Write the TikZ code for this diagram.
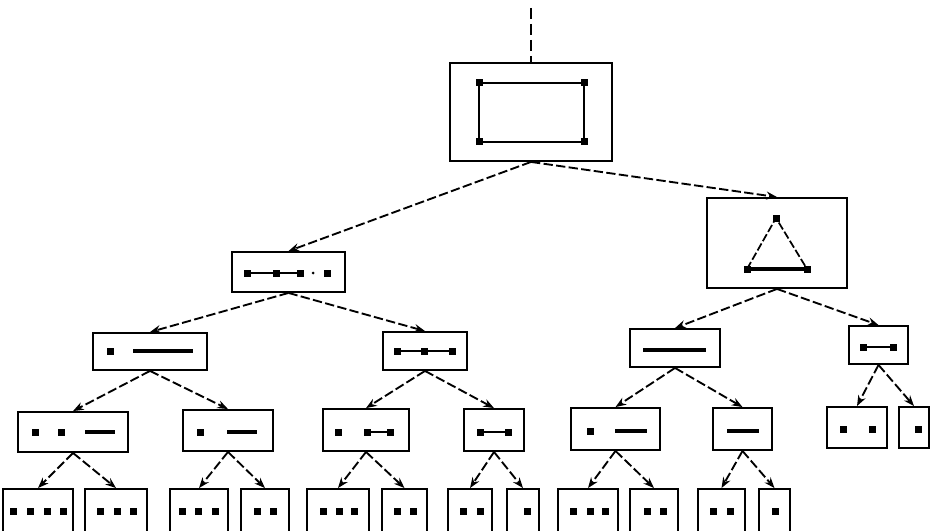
\documentclass[tikz,border=0pt]{standalone}
\usetikzlibrary{arrows.meta}
\newcommand{\mydot}[2]{\fill (#1-3.5,#2-3.5) rectangle (#1+3.5,#2+3.5);}
\begin{document}
\begin{tikzpicture}[x=0.75pt,y=-0.75pt,
  box/.style 2 args={draw, line width=1.4pt, inner sep=0pt,
    minimum width=#1*0.75pt, minimum height=#2*0.75pt},
  conn/.style={line width=1.4pt, dash pattern=on 7pt off 2.5pt,
    -{Stealth[length=8pt,width=6pt]}},
  seg/.style={line width=1.3pt},
  thickseg/.style={line width=3.2pt}]
\useasboundingbox (0,0) rectangle (931,531);
% ---------- boxes ----------
\node[box={162}{98}] (root) at (531,112) {};
\node[box={140}{90}] (T) at (777,243) {};
\node[box={113}{40}] (L) at (288.5,272) {};
\node[box={114}{37}] (A) at (150,351.5) {};
\node[box={84}{38}] (B) at (425,351) {};
\node[box={90}{38}] (C) at (675,348) {};
\node[box={59}{38}] (D) at (878.5,345) {};
\node[box={110}{40}] (A1) at (73,432) {};
\node[box={90}{41}] (A2) at (228,430.5) {};
\node[box={86}{42}] (B1) at (366,430) {};
\node[box={60}{42}] (B2) at (494,430) {};
\node[box={89}{42}] (C1) at (615.5,429) {};
\node[box={59}{42}] (C2) at (742.5,429) {};
\node[box={60}{41}] (D1) at (857,427.5) {};
\node[box={30}{41}] (D2) at (914,427.5) {};
\node[box={70}{48}] (L1) at (38,513) {};
\node[box={62}{48}] (L2) at (116,513) {};
\node[box={58}{48}] (L3) at (199,513) {};
\node[box={48}{48}] (L4) at (265,513) {};
\node[box={62}{48}] (L5) at (338,513) {};
\node[box={45}{48}] (L6) at (404.5,513) {};
\node[box={44}{48}] (L7) at (470,513) {};
\node[box={32}{48}] (L8) at (523,513) {};
\node[box={60}{48}] (L9) at (588,513) {};
\node[box={48}{48}] (L10) at (654,513) {};
\node[box={47}{48}] (L11) at (721.5,513) {};
\node[box={31}{48}] (L12) at (774.5,513) {};
% ---------- connectors ----------
\coordinate (top) at (531,8);
\draw[line width=1.4pt, dash pattern=on 8pt off 4pt] (top) -- (root.north);
\foreach \p/\c in {root/L, root/T, L/A, L/B, T/C, T/D,
  A/A1, A/A2, B/B1, B/B2, C/C1, C/C2, D/D1, D/D2,
  A1/L1, A1/L2, A2/L3, A2/L4, B1/L5, B1/L6, B2/L7, B2/L8,
  C1/L9, C1/L10, C2/L11, C2/L12}
  \draw[conn] (\p.south) -- (\c.north);
% ---------- contents ----------
% root: rectangle with corner points
\draw[line width=1.5pt] (479,83) rectangle (584,142);
\mydot{479}{83}\mydot{584}{83}\mydot{479}{142}\mydot{584}{142}
% triangle
\draw[line width=1.3pt, dash pattern=on 6pt off 2pt] (747,269) -- (776,218) -- (807,269);
\draw[thickseg] (747,269) -- (807,269);
\mydot{776}{218}\mydot{747}{269}\mydot{807}{269}
% L
\draw[seg] (247,273) -- (300,273);
\mydot{247}{273}\mydot{276}{273}\mydot{300}{273}\mydot{327}{273}
\fill (313,273) circle (1.5);
% A
\mydot{110}{351}
\draw[thickseg] (133,351) -- (193,351);
% B
\draw[seg] (397,351) -- (452,351);
\mydot{397}{351}\mydot{424}{351}\mydot{452}{351}
% C
\draw[thickseg] (643,350) -- (706,350);
% D
\draw[seg] (863,347) -- (893,347);
\mydot{863}{347}\mydot{893}{347}
% A1
\mydot{35}{432}\mydot{61}{432}
\draw[thickseg] (85,432) -- (115,432);
% A2
\mydot{200}{432}
\draw[thickseg] (227,432) -- (257,432);
% B1
\mydot{338}{432}
\draw[seg] (367,432) -- (390,432);
\mydot{367}{432}\mydot{390}{432}
% B2
\draw[seg] (480,432) -- (508,432);
\mydot{480}{432}\mydot{508}{432}
% C1
\mydot{590}{431}
\draw[thickseg] (615,431) -- (647,431);
% C2
\draw[thickseg] (727,431) -- (759,431);
% D1, D2
\mydot{843}{429}\mydot{872}{429}
\mydot{918}{429}
% leaves
\foreach \x in {13,30,47,63,100,117,133,182,198,215,257,273,
  323,339,354,397,413,463,480,527,573,590,605,647,663,713,730,775}
  {\mydot{\x}{511}}
\end{tikzpicture}
\end{document}
